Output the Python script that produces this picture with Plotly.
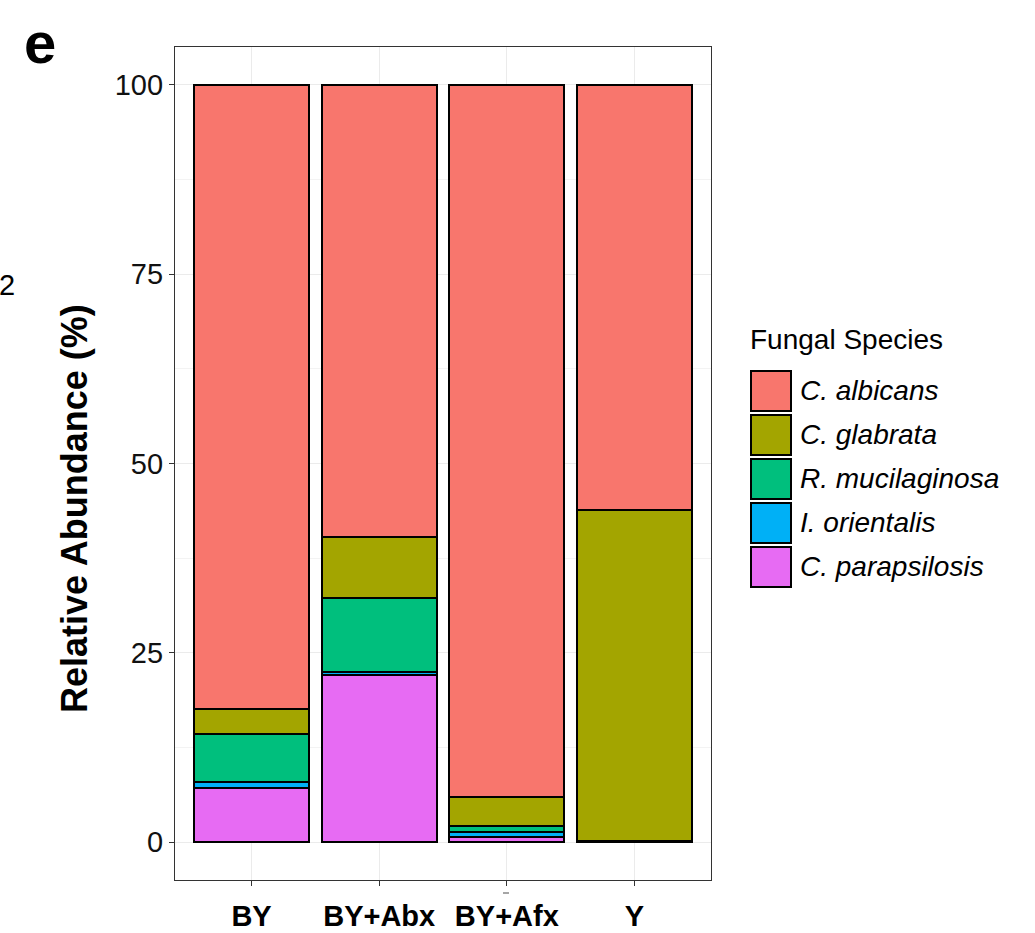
import plotly.graph_objects as go

groups = ["BY", "BY+Abx", "BY+Afx", "Y"]
species = ["C. parapsilosis", "I. orientalis", "R. mucilaginosa", "C. glabrata", "C. albicans"]
colors = ["#E76BF3", "#00B0F6", "#00BF7D", "#A3A500", "#F8766D"]

c_parapsilosis = [7.1, 22.1, 0.7, 0.0]
i_orientalis = [0.8, 0.4, 0.6, 0.0]
r_mucilaginosa = [6.4, 9.8, 0.8, 0.1]
c_glabrata = [3.3, 8.0, 3.9, 43.7]
c_albicans = [82.4, 59.7, 94.0, 56.2]
values = [c_parapsilosis, i_orientalis, r_mucilaginosa, c_glabrata, c_albicans]

yticks = [0, 25, 50, 75, 100]

FONT = "Liberation Sans, Arial, Helvetica, sans-serif"

fig = go.Figure()
for name, col, vals in zip(species, colors, values):
    fig.add_trace(go.Bar(
        x=groups, y=vals, name=name, width=0.9,
        marker=dict(color=col, line=dict(color="black", width=2)),
        showlegend=False,
    ))

L, R, T, B = 175, 324, 47, 53
W, H = 1035, 933
pw, ph = W - L - R, H - T - B

fig.update_layout(
    width=W, height=H, barmode="stack", bargap=0.1,
    margin=dict(l=L, r=R, t=T, b=B, pad=0, autoexpand=False),
    paper_bgcolor="white", plot_bgcolor="white",
    font=dict(family=FONT, color="black"),
)
fig.update_xaxes(
    range=[-0.6, 3.6], showgrid=True, gridcolor="#EBEBEB", gridwidth=1.2,
    showline=True, linecolor="#333333", linewidth=1.2, mirror=True,
    ticks="outside", ticklen=5, tickcolor="#333333", tickwidth=1.2,
    tickfont=dict(size=29, family=FONT, color="black", weight="bold"),
    ticklabelstandoff=5, automargin=False,
    zeroline=False,
)
fig.update_yaxes(
    range=[-5, 105], tickvals=yticks, ticktext=[str(v) for v in yticks],
    showgrid=True, gridcolor="#EBEBEB", gridwidth=1.2,
    minor=dict(tickvals=[12.5, 37.5, 62.5, 87.5], showgrid=True, gridcolor="#F3F3F3", gridwidth=1),
    showline=True, linecolor="#333333", linewidth=1.2, mirror=True,
    ticks="outside", ticklen=5, tickcolor="#333333", tickwidth=1.2,
    tickfont=dict(size=29, family=FONT, color="#111111"),
    automargin=False,
    zeroline=False,
)

ann = []
ann.append(dict(x=(74 - L) / pw, y=(H - B - 509) / ph, xref="paper", yref="paper",
                text="<b>Relative Abundance (%)</b>", textangle=-90, showarrow=False,
                font=dict(size=36, family=FONT, color="black"), xanchor="center", yanchor="middle"))
ann.append(dict(x=(40 - L) / pw, y=(H - B - 42) / ph, xref="paper", yref="paper",
                text="<b>e</b>", showarrow=False,
                font=dict(size=58, family=FONT, color="black"), xanchor="center", yanchor="middle"))
ann.append(dict(x=(7 - L) / pw, y=(H - B - 285) / ph, xref="paper", yref="paper",
                text="2", showarrow=False,
                font=dict(size=29, family=FONT, color="black"), xanchor="center", yanchor="middle"))

# Custom legend
leg_x0 = 750
ann.append(dict(x=(leg_x0 - 2 - L) / pw, y=(H - B - 339) / ph, xref="paper", yref="paper",
                text="Fungal Species", showarrow=False, xanchor="left", yanchor="middle",
                font=dict(size=28, family=FONT, color="black")))
shapes = []
key = 40
top = 371
leg_species = list(reversed(species))
leg_colors = list(reversed(colors))
for i, (nm, col) in enumerate(zip(leg_species, leg_colors)):
    y0 = top + i * 44
    shapes.append(dict(type="rect", xref="paper", yref="paper",
                       x0=(leg_x0 + 1 - L) / pw, x1=(leg_x0 + 1 + key - L) / pw,
                       y0=(H - B - (y0 + key)) / ph, y1=(H - B - y0) / ph,
                       fillcolor=col, line=dict(color="black", width=2)))
    ann.append(dict(x=(leg_x0 + 48 - L) / pw, y=(H - B - (y0 + key / 2 - 1)) / ph,
                    xref="paper", yref="paper", text="<i>" + nm + "</i>", showarrow=False,
                    xanchor="left", yanchor="middle",
                    font=dict(size=28, family=FONT, color="black")))

# small stray mark under the third tick
shapes.append(dict(type="line", xref="paper", yref="paper",
                   x0=(503 - L) / pw, x1=(509 - L) / pw,
                   y0=(H - B - 893) / ph, y1=(H - B - 893) / ph,
                   line=dict(color="#888888", width=1.5)))

fig.update_layout(annotations=ann, shapes=shapes)
fig.write_html("out.html")
